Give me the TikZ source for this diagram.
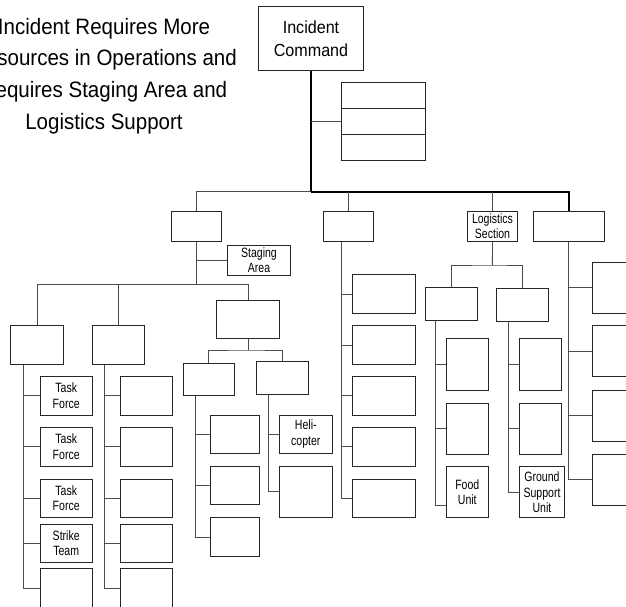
\documentclass[tikz,border=0pt]{standalone}
\usepackage{fontspec}
\setmainfont{Liberation Sans}
\newfontfamily\titlefont[FakeStretch=0.92]{Liberation Sans}
\newfontfamily\boxfont[FakeStretch=0.78]{Liberation Sans}

\tikzset{
  box/.style={draw=black!85, line width=0.9pt, inner sep=0pt, align=center,
    font=\boxfont\fontsize{13.5}{15.5}\selectfont},
  sz/.style 2 args={minimum width=#1pt, minimum height=#2pt},
  link/.style={draw=black!70, line width=0.9pt},
  trunk/.style={draw=black, line width=2.4pt},
  halftrunk/.style={draw=black, line width=1.6pt}
}

\begin{document}
\begin{tikzpicture}[x=1pt,y=-1pt]
  \useasboundingbox (0,0) rectangle (626,607);

  % title
  \node[align=center, font=\titlefont\fontsize{22.3}{31.7}\selectfont] (title) at (104,76)
    {Incident Requires More\\Resources in Operations and\\Requires Staging Area and\\Logistics Support};

  % command
  \node[box, sz={104.6}{64.3}, font=\titlefont\fontsize{17.5}{22.5}\selectfont] (ic) at (311,38.8) {Incident\\Command};
  \foreach \i/\y in {1/95.6,2/121.4,3/147.2}
    \node[box, sz={84}{25.8}] (staff\i) at (383.7,\y) {};
  \coordinate (bar) at (311,191.7);
  \draw[trunk] (ic.south) -- (bar);
  \draw[link] (ic.south |- staff2.west) -- (staff2.west);

  % sections
  \node[box, sz={50}{30.7}] (ops) at (196.3,226.3) {};
  \node[box, sz={50.4}{30.7}] (plan) at (348.5,226.3) {};
  \node[box, sz={50.4}{30.7}] (log) at (492.5,226.3) {Logistics\\Section};
  \node[box, sz={71}{30.7}] (fin) at (568.8,226.3) {};
  \draw[link] (ops.north) |- (bar);
  \draw[halftrunk] (bar) -| (fin.north);
  \draw[link] (plan.north) -- (plan.north |- bar);
  \draw[link] (log.north) -- (log.north |- bar);

  % operations
  \node[box, sz={62.6}{30}] (stage) at (259,260) {Staging\\Area};
  \coordinate (opsbar) at (196.3,284.5);
  \draw[link] (ops.south) -- (opsbar);
  \draw[link] (ops.south |- stage.west) -- (stage.west);
  \node[box, sz={52.6}{38.7}] (br1) at (37,344.7) {};
  \node[box, sz={52}{38.7}] (br2) at (118,344.7) {};
  \node[box, sz={62.6}{38.7}] (air) at (248,319.3) {};
  \draw[link] (br1.north) |- (opsbar) -| (air.north);
  \draw[link] (br2.north) -- (br2.north |- opsbar);

  \foreach \i/\y/\t in {1/395.8/{Task\\Force},2/446.8/{Task\\Force},3/498.3/{Task\\Force},4/543.3/{Strike\\Team},5/588/{}}{
    \node[box, sz={52.3}{38.4}] (tf\i) at (66.2,\y) {\t};
    \draw[link] ([xshift=13.3pt]br1.south west) |- (tf\i.west);
    \node[box, sz={52.7}{38.4}] (rs\i) at (146.3,\y) {};
    \draw[link] ([xshift=13.3pt]br2.south west) |- (rs\i.west);
  }

  % air operations
  \coordinate (airbar) at (248,350);
  \draw[link] (air.south) -- (airbar);
  \node[box, sz={51.3}{32}] (atg) at (208.7,379.3) {};
  \node[box, sz={52}{32.6}] (asg) at (282.3,378) {};
  \draw[link] (atg.north) |- (airbar) -| (asg.north);
  \foreach \i/\y in {1/434.2,2/485.2,3/537}{
    \node[box, sz={48.7}{38.5}] (atu\i) at (234.7,\y) {};
    \draw[link] ([xshift=13pt]atg.south west) |- (atu\i.west);
  }
  \node[box, sz={53}{38.3}] (heli) at (305.8,434.2) {Heli-\\copter};
  \node[box, sz={53}{51}] (asu) at (305.8,491.5) {};
  \draw[link] ([xshift=13pt]asg.south west) |- (heli.west);
  \draw[link] ([xshift=13pt]asg.south west) |- (asu.west);

  % planning
  \foreach \i/\y in {1/294,2/345,3/395.8,4/446.8,5/498.5}{
    \node[box, sz={62.7}{38.5}] (pu\i) at (383.7,\y) {};
    \draw[link] ([xshift=18.4pt]plan.south west) |- (pu\i.west);
  }

  % logistics
  \coordinate (logbar) at (492.4,265);
  \draw[link] (log.south) -- (logbar);
  \node[box, sz={52}{32.3}] (serv) at (451.7,303.9) {};
  \node[box, sz={52}{32.3}] (supp) at (522,304.8) {};
  \draw[link] (serv.north) |- (logbar) -| (supp.north);
  \node[box, sz={42}{51.3}] (sv1) at (467.3,364.3) {};
  \node[box, sz={42}{51}] (sv2) at (467.3,428.7) {};
  \node[box, sz={42}{51}] (food) at (467.3,492.2) {Food\\Unit};
  \draw[link] ([xshift=10.6pt]serv.south west) |- (sv1.west);
  \draw[link] ([xshift=10.6pt]serv.south west) |- (sv2.west);
  \draw[link] ([xshift=10.6pt]serv.south west) |- ([yshift=-12.8pt]food.west);
  \node[box, sz={42}{51.3}] (su1) at (540.7,364.3) {};
  \node[box, sz={42}{51}] (su2) at (540.7,428.7) {};
  \node[box, sz={44.6}{51}] (gsu) at (542,492.2) {Ground\\Support\\Unit};
  \draw[link] ([xshift=13.3pt]supp.south west) |- (su1.west);
  \draw[link] ([xshift=13.3pt]supp.south west) |- (su2.west);
  \draw[link] ([xshift=13.3pt]supp.south west) |- (gsu.west);

  % finance
  \foreach \i/\y in {1/287.7,2/351.3,3/415.5,4/479.5}{
    \node[box, sz={56}{51}] (fu\i) at (620.7,\y) {};
    \draw[link] (fin.south) |- (fu\i.west);
  }
\end{tikzpicture}
\end{document}
